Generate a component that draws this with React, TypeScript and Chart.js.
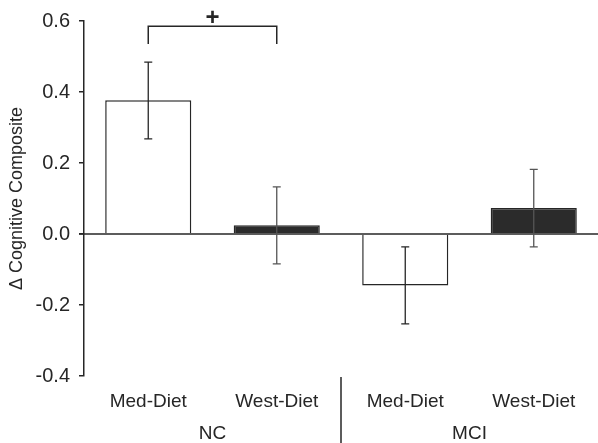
import React, { useEffect, useRef } from "react";
import { Chart, registerables } from "chart.js";

Chart.register(...registerables);

const categories = ["Med-Diet", "West-Diet", "Med-Diet", "West-Diet"];
const groups = ["NC", "MCI"];
const groupSpans = [[0, 1], [2, 3]];
const means = [0.377, 0.025, -0.145, 0.073];
const errLow = [0.268, -0.084, -0.253, -0.036];
const errHigh = [0.484, 0.133, -0.036, 0.182];
const barColors = ["#ffffff", "#2b2b2b", "#ffffff", "#2b2b2b"];
const yMin = -0.4;
const yMax = 0.6;
const yStep = 0.2;
const bracketFrom = 0;
const bracketTo = 1;
const bracketTop = 0.585;
const bracketFoot = 0.535;
const bracketLabel = "+";
const yTitle = "\u0394 Cognitive Composite";

const FONT = "'Liberation Sans', Arial, sans-serif";
const INK = "#262626";

const overlay = {
  id: "overlay",
  afterDatasetsDraw(chart: any) {
    const ctx = chart.ctx;
    const y = chart.scales.y;
    const area = chart.chartArea;
    const meta = chart.getDatasetMeta(0);
    ctx.save();
    // zero line
    ctx.strokeStyle = INK;
    ctx.lineWidth = 1.5;
    const y0 = y.getPixelForValue(0);
    ctx.beginPath();
    ctx.moveTo(area.left - 5, y0);
    ctx.lineTo(chart.width, y0);
    ctx.stroke();
    // error bars
    ctx.lineWidth = 1.3;
    meta.data.forEach((bar: any, i: number) => {
      const x = bar.x;
      const yl = y.getPixelForValue(errLow[i]);
      const yh = y.getPixelForValue(errHigh[i]);
      ctx.strokeStyle = barColors[i] === "#ffffff" ? INK : "#555";
      ctx.beginPath();
      ctx.moveTo(x, yl);
      ctx.lineTo(x, yh);
      ctx.moveTo(x - 4, yl);
      ctx.lineTo(x + 4, yl);
      ctx.moveTo(x - 4, yh);
      ctx.lineTo(x + 4, yh);
      ctx.stroke();
    });
    // bracket
    const xa = meta.data[bracketFrom].x;
    const xb = meta.data[bracketTo].x;
    const yt = y.getPixelForValue(bracketTop);
    const yf = y.getPixelForValue(bracketFoot);
    ctx.strokeStyle = INK;
    ctx.lineWidth = 1.5;
    ctx.beginPath();
    ctx.moveTo(xa, yf);
    ctx.lineTo(xa, yt);
    ctx.lineTo(xb, yt);
    ctx.lineTo(xb, yf);
    ctx.stroke();
    ctx.fillStyle = INK;
    ctx.font = "bold 24px " + FONT;
    ctx.textAlign = "center";
    ctx.textBaseline = "bottom";
    ctx.fillText(bracketLabel, (xa + xb) / 2, yt + 4);
    ctx.restore();
  },
  afterDraw(chart: any) {
    const ctx = chart.ctx;
    const meta = chart.getDatasetMeta(0);
    const area = chart.chartArea;
    ctx.save();
    ctx.fillStyle = INK;
    ctx.font = "19px " + FONT;
    ctx.textAlign = "center";
    ctx.textBaseline = "middle";
    groups.forEach((g, gi) => {
      const [a, b] = groupSpans[gi];
      const cx = (meta.data[a].x + meta.data[b].x) / 2;
      ctx.fillText(g, cx, area.bottom + 58);
    });
    // separator
    const sx = (meta.data[1].x + meta.data[2].x) / 2;
    ctx.strokeStyle = INK;
    ctx.lineWidth = 1.5;
    ctx.beginPath();
    ctx.moveTo(sx, area.bottom + 1);
    ctx.lineTo(sx, chart.height);
    ctx.stroke();
    ctx.restore();
  },
};

export default function App() {
  const ref = useRef<HTMLCanvasElement>(null);
  useEffect(() => {
    if (!ref.current) return;
    const chart = new Chart(ref.current, {
      type: "bar",
      data: {
        labels: categories,
        datasets: [
          {
            data: means,
            backgroundColor: barColors,
            borderColor: INK,
            borderWidth: 1.5,
            borderSkipped: "start",
            categoryPercentage: 1,
            barPercentage: 0.67,
          },
        ],
      },
      options: {
        responsive: false,
        animation: false,
        devicePixelRatio: 1,
        layout: { padding: { top: 21, right: 0, left: 0, bottom: 0 } },
        plugins: { legend: { display: false }, tooltip: { enabled: false } },
        scales: {
          x: {
            grid: { display: false },
            border: { display: false },
            ticks: {
              color: INK,
              font: { family: FONT, size: 19 },
              padding: 6,
              maxRotation: 0,
              autoSkip: false,
            },
            afterFit: (s: any) => {
              s.height = 67;
            },
          },
          y: {
            min: yMin,
            max: yMax,
            grid: {
              drawOnChartArea: false,
              drawTicks: true,
              tickLength: 5,
              color: INK,
              lineWidth: 1.5,
            },
            border: { display: true, color: INK, width: 1.5 },
            ticks: {
              stepSize: yStep,
              color: INK,
              font: { family: FONT, size: 20 },
              padding: 9,
              callback: (v: any) => Number(v).toFixed(1),
            },
            title: {
              display: true,
              text: yTitle,
              color: INK,
              font: { family: FONT, size: 18 },
              padding: { top: 6, bottom: 6 },
            },
            afterFit: (s: any) => {
              s.width = 84;
            },
          },
        },
      },
      plugins: [overlay],
    });
    return () => chart.destroy();
  }, []);
  return (
    <div style={{ position: "absolute", left: 0, top: 0, width: 598, height: 443, background: "#fff" }}>
      <canvas ref={ref} width={598} height={443} />
    </div>
  );
}
